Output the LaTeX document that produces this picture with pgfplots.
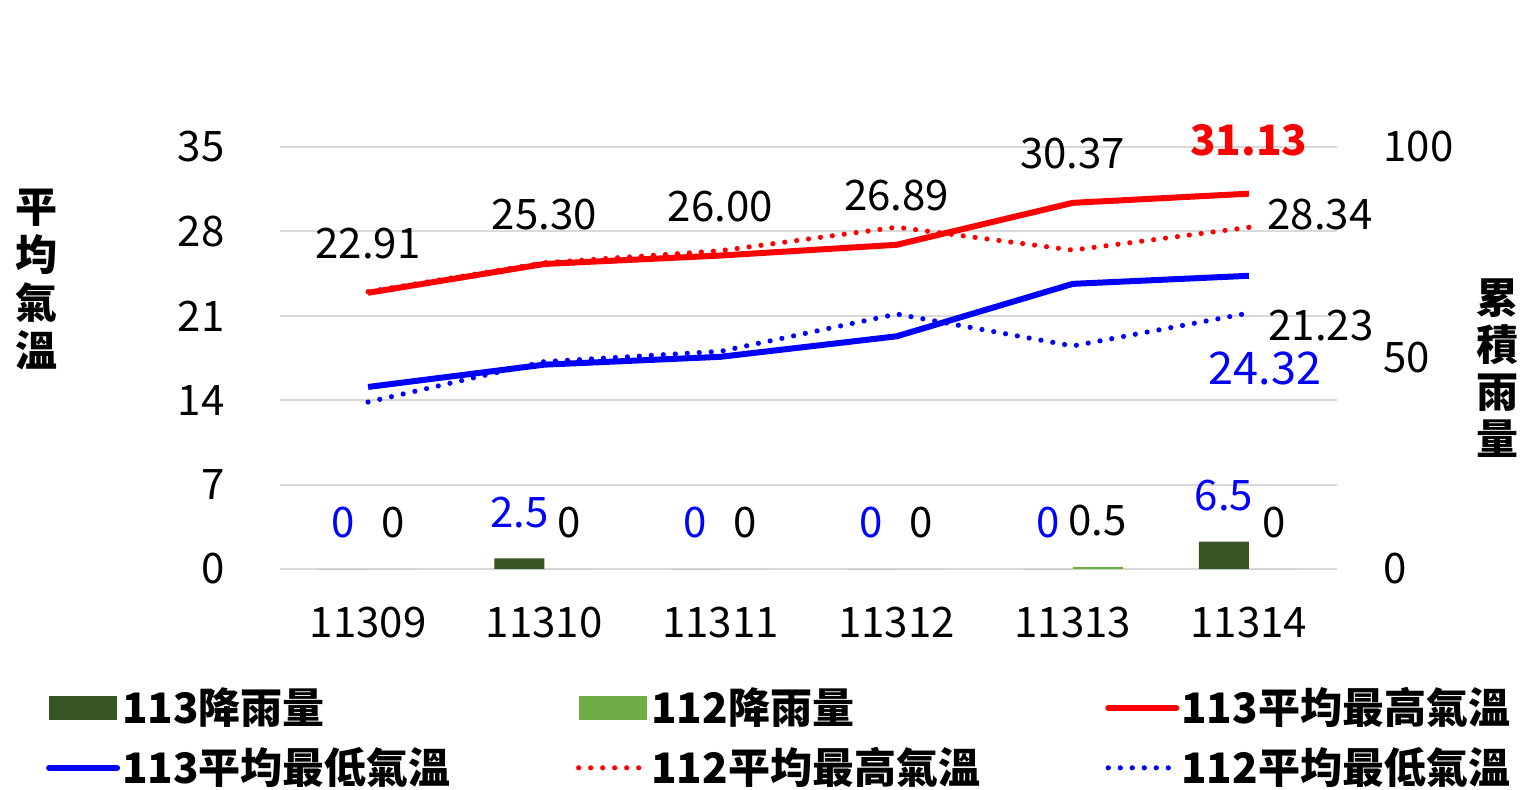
\documentclass[border=0pt]{standalone}
\usepackage{fontspec}
\setmainfont{Noto Sans CJK TC}
\usepackage{pgfplots}
\pgfplotsset{compat=1.18}
\definecolor{dkgreen}{RGB}{55,86,35}
\definecolor{ltgreen}{RGB}{112,173,71}
\definecolor{gridgray}{RGB}{217,217,217}
\newcommand\tk{\fontsize{21}{25}\selectfont}
\newcommand\legfont{\fontsize{21}{25}\selectfont\bfseries}
\pgfplotsset{
  /pgf/number format/assume math mode=true,
  barleg/.style={legend image code/.code={\fill[##1] (0pt,-6pt) rectangle (34pt,6pt);}},
  lineleg/.style={legend image code/.code={\draw[##1] (0pt,0pt) -- (34pt,0pt);}},
  dotline/.style={line width=2.6pt, dash pattern=on 0pt off 6pt, line cap=round},
  solline/.style={line width=3pt, line join=round},
}
\begin{document}
\begin{tikzpicture}
\useasboundingbox (0,0) rectangle (762pt,-394.5pt);
% temperature axis (left)
\begin{axis}[
  at={(140pt,-284.5pt)}, anchor=south west,
  scale only axis, width=528.5pt, height=211pt,
  xmin=-0.5, xmax=5.5, ymin=0, ymax=35,
  axis line style={draw=none}, major tick length=0pt,
  ytick={0,7,14,21,28,35}, ymajorgrids,
  grid style={gridgray, line width=1pt},
  xtick={0,1,2,3,4,5},
  xticklabels={11309,11310,11311,11312,11313,11314},
  tick label style={font=\tk, inner sep=0pt},
  yticklabel style={anchor=east}, yticklabel shift=27.5pt,
  xticklabel style={anchor=north}, xticklabel shift=19pt,
  clip=false,
]
\addplot[red, dotline, mark=none] coordinates {(0,23.0) (1,25.4) (2,26.4) (3,28.35) (4,26.45) (5,28.34)};
\addplot[blue, dotline, mark=none] coordinates {(0,13.85) (1,17.2) (2,18.05) (3,21.15) (4,18.5) (5,21.23)};
\addplot[red, solline, mark=none] coordinates {(0,22.91) (1,25.30) (2,26.00) (3,26.89) (4,30.37) (5,31.13)};
\addplot[blue, solline, mark=none] coordinates {(0,15.1) (1,16.95) (2,17.6) (3,19.3) (4,23.65) (5,24.32)};
% data labels
\addplot[draw=none, mark=none, forget plot, nodes near coords, point meta=explicit symbolic,
  nodes near coords style={font=\tk, text=black, anchor=center, inner sep=0pt, yshift=24.5pt}]
  coordinates {(0,22.91)[22.91] (1,25.30)[25.30] (2,26.00)[26.00] (3,26.89)[26.89] (4,30.37)[30.37]};
\addplot[draw=none, mark=none, forget plot, nodes near coords, point meta=explicit symbolic,
  nodes near coords style={font=\fontsize{21}{25}\selectfont\bfseries, text=red, anchor=center, inner sep=0pt, yshift=26.5pt}]
  coordinates {(5,31.13)[31.13]};
\addplot[draw=none, mark=none, forget plot, nodes near coords, point meta=explicit symbolic,
  nodes near coords style={font=\tk, text=black, anchor=center, inner sep=0pt, xshift=35.5pt, yshift=6.5pt}]
  coordinates {(5,28.34)[28.34]};
\addplot[draw=none, mark=none, forget plot, nodes near coords, point meta=explicit symbolic,
  nodes near coords style={font=\tk, text=black, anchor=center, inner sep=0pt, xshift=36pt, yshift=-6pt}]
  coordinates {(5,21.23)[21.23]};
\addplot[draw=none, mark=none, forget plot, nodes near coords, point meta=explicit symbolic,
  nodes near coords style={font=\fontsize{22.5}{27}\selectfont, text=blue, anchor=center, inner sep=0pt, xshift=8pt, yshift=-46.5pt}]
  coordinates {(5,24.32)[24.32]};
\end{axis}
% rainfall axis (right)
\begin{axis}[
  at={(140pt,-284.5pt)}, anchor=south west,
  scale only axis, width=528.5pt, height=211pt,
  xmin=-0.5, xmax=5.5, ymin=0, ymax=100,
  axis line style={draw=none}, major tick length=0pt,
  xtick=\empty, ytick={0,50,100},
  yticklabel pos=right,
  tick label style={font=\tk, inner sep=0pt},
  yticklabel style={anchor=west}, yticklabel shift=23pt,
  clip=false,
  legend columns=3, legend cell align=left,
  legend style={at={(-0.2213,-0.4)}, anchor=west, draw=none, fill=none,
    inner sep=0pt, outer sep=0pt, row sep=8pt, column sep=0pt,
    nodes={inner sep=0pt, text width=227pt, align=left, text height=19pt, text depth=3pt, font=\legfont},
    /tikz/every odd column/.append style={column sep=1pt}},
]
\addplot[ybar, bar width=25pt, bar shift=-12.5pt, fill=dkgreen, draw=none, forget plot,
  nodes near coords, nodes near coords style={font=\tk, text=blue, anchor=center, inner sep=0pt, xshift=-12.5pt, yshift=23pt}]
  coordinates {(0,0) (1,2.5) (2,0) (3,0) (4,0) (5,6.5)};
\addplot[ybar, bar width=25pt, bar shift=12.5pt, fill=ltgreen, draw=none, forget plot,
  nodes near coords, nodes near coords style={font=\tk, text=black, anchor=center, inner sep=0pt, xshift=12.5pt, yshift=23pt}]
  coordinates {(0,0) (1,0) (2,0) (3,0) (4,0.5) (5,0)};
\addlegendimage{barleg, fill=dkgreen, draw=none}
\addlegendimage{barleg, fill=ltgreen, draw=none}
\addlegendimage{lineleg, red, line width=3pt, line cap=round}
\addlegendimage{lineleg, blue, line width=3pt, line cap=round}
\addlegendimage{lineleg, red, dotline}
\addlegendimage{lineleg, blue, dotline}
\legend{113降雨量, 112降雨量, 113平均最高氣溫, 113平均最低氣溫, 112平均最高氣溫, 112平均最低氣溫}
\end{axis}
\node[font=\fontsize{21}{24}\selectfont\bfseries, align=center, inner sep=0pt] at (18pt,-140pt) {平\\均\\氣\\溫};
\node[font=\fontsize{21}{23.5}\selectfont\bfseries, align=center, inner sep=0pt] at (748.5pt,-184pt) {累\\積\\雨\\量};
\end{tikzpicture}
\end{document}
